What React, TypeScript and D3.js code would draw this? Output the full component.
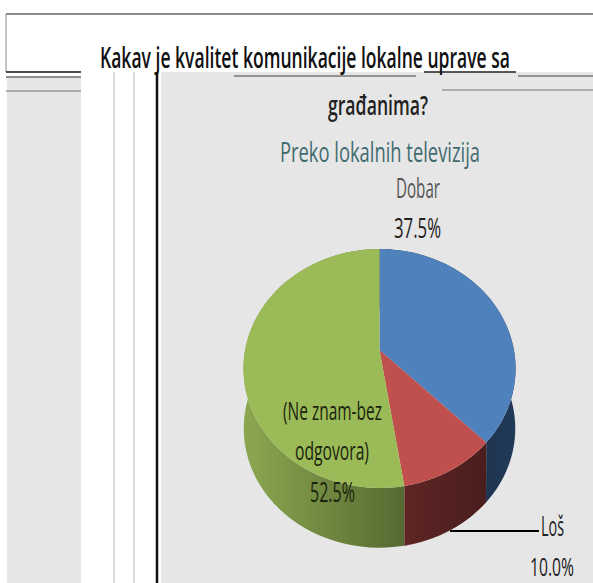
import React from "react";
import * as d3 from "d3";

const categories = ["Dobar", "Loš", "(Ne znam-bez odgovora)"];
const values = [37.5, 10.0, 52.5];
const topColors = ["#4f81bd", "#c0504d", "#9bbb59"];
const gradientStops = [
  ["#1e3450", "#213a58"],
  ["#5e2524", "#4a1e1e"],
  ["#8ba850", "#566a31"],
];

const W = 593, H = 583;
const cx = 379.5, cy = 350, sx = 134.4, sy = 116.6, q = 0.155, depth = 60, ringScale = 0.998;

// Perspective projection of the pie's disc: angle measured clockwise from 12 o'clock
const project = (a: number, k = 1, dy = 0): [number, number] => {
  const u = Math.sin(a), v = -Math.cos(a);
  const w = 1 - q * v;
  return [cx + (k * sx * u) / w, cy + dy + (k * sy * v) / w];
};

const line = d3.line();
const arcs = d3.pie<number>().sort(null).value((d) => d)(values);

const samples = (a0: number, a1: number) => d3.range(0, 61).map((i) => a0 + ((a1 - a0) * i) / 60);

const topPath = (a0: number, a1: number) =>
  line([[cx, cy], ...samples(a0, a1).map((a) => project(a))])! + "Z";

const sidePath = (a0: number, a1: number) => {
  const s = samples(a0, a1);
  return line([...s.map((a) => project(a)), ...[...s].reverse().map((a) => project(a, ringScale, depth))])! + "Z";
};

const font = "'Liberation Sans Narrow','Open Sans',sans-serif";

type Lbl = { t: string; x: number; y: number; w: number; fs: number; fill: string; fw?: number };
const labels: Lbl[] = [
  { t: "Kakav je kvalitet komunikacije lokalne uprave sa", x: 100, y: 68, w: 410, fs: 29, fill: "#111", fw: 600 },
  { t: "građanima?", x: 328, y: 115, w: 100, fs: 27, fill: "#222", fw: 600 },
  { t: "Preko lokalnih televizija", x: 280, y: 162, w: 200, fs: 28, fill: "#3f6b70" },
  { t: categories[0], x: 396, y: 198, w: 44, fs: 27, fill: "#555" },
  { t: "37.5%", x: 394, y: 238, w: 47, fs: 27, fill: "#222" },
  { t: "(Ne znam-bez", x: 283, y: 420, w: 99, fs: 26, fill: "#1c240e" },
  { t: "odgovora)", x: 295, y: 460, w: 74, fs: 26, fill: "#1c240e" },
  { t: "52.5%", x: 310, y: 502, w: 45, fs: 27, fill: "#1c240e" },
  { t: categories[1], x: 541, y: 536, w: 23, fs: 27, fill: "#222" },
  { t: "10.0%", x: 530, y: 576, w: 44, fs: 26, fill: "#222" },
];

type Seg = [number, number, number, number, string, number];
const rules: Seg[] = [
  [6, 14, 593, 14, "#8a8a8a", 2],
  [6, 14, 6, 72, "#8a8a8a", 1],
  [6, 72, 81, 72, "#111", 1.5],
  [6, 77, 81, 77, "#666", 1.5],
  [6, 91, 81, 91, "#999", 1.5],
  [114, 72, 114, 583, "#dcdcdc", 2],
  [134, 72, 134, 583, "#dcdcdc", 2],
  [157, 72, 157, 583, "#111", 2.5],
  [424, 72, 516, 72, "#222", 1.5],
  [234, 76, 416, 76, "#777", 1.5],
  [518, 76, 593, 76, "#777", 1.5],
  [442, 90, 593, 90, "#999", 1.5],
];

export default function App() {
  return (
    <svg width={W} height={H} style={{ position: "absolute", left: 0, top: 0, background: "#fff" }}>
      <defs>
        {gradientStops.map((g, i) => (
          <linearGradient key={i} id={`side${i}`} gradientUnits="userSpaceOnUse"
            x1={i === 2 ? 243 : i === 1 ? 404 : 485} x2={i === 2 ? 404 : i === 1 ? 486 : 515} y1={0} y2={0}>
            <stop offset="0" stopColor={g[0]} />
            <stop offset="1" stopColor={g[1]} />
          </linearGradient>
        ))}
      </defs>
      <rect x={7} y={78} width={74} height={505} fill="#e6e6e6" />
      <rect x={161} y={72} width={432} height={511} fill="#e6e6e6" />
      {rules.map((r, i) => (
        <line key={i} x1={r[0]} y1={r[1]} x2={r[2]} y2={r[3]} stroke={r[4]} strokeWidth={r[5]} />
      ))}
      {arcs.map((a, i) => (
        <path key={`s${i}`} d={sidePath(a.startAngle, a.endAngle)} fill={`url(#side${i})`} />
      ))}
      {arcs.map((a, i) => (
        <path key={`t${i}`} d={topPath(a.startAngle, a.endAngle)} fill={topColors[i]} />
      ))}
      <line x1={450} y1={531} x2={539} y2={531} stroke="#000" strokeWidth={2} />
      {labels.map((l, i) => (
        <text key={i} x={l.x} y={l.y} fontFamily={font} fontSize={l.fs} fontWeight={l.fw ?? 400} fill={l.fill}
          textLength={l.w} lengthAdjust="spacingAndGlyphs">
          {l.t}
        </text>
      ))}
    </svg>
  );
}
